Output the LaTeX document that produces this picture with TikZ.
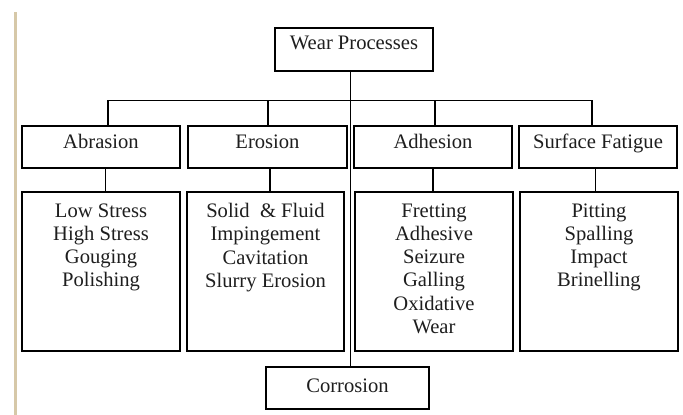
\documentclass[tikz,border=0pt]{standalone}
\usepackage{fontspec}
\setmainfont{Liberation Serif}
\usetikzlibrary{positioning}
\definecolor{tanline}{RGB}{214,200,168}
\definecolor{inktext}{RGB}{30,30,30}

\begin{document}
\begin{tikzpicture}[x=1pt,y=-1pt,
    box/.style={draw,line width=2pt,rectangle,inner sep=0pt,
      font=\fontsize{20.6}{23.3}\selectfont,text=inktext},
    headbox/.style={box,minimum width=158pt,minimum height=42pt,text height=12pt,text depth=10pt},
    listbox/.style={box,minimum width=158pt,minimum height=158.5pt},
    listtext/.style={anchor=north,inner sep=0pt,align=center,
      font=\fontsize{20.6}{23.3}\selectfont,text=inktext},
    link/.style={line width=1.2pt}]
    \useasboundingbox (0,0) rectangle (683,415);
    \fill[tanline] (14,12) rectangle (17.3,415);
    % top and bottom
    \node[headbox,minimum height=43pt,text height=10pt,text depth=11pt] (wear) at (354,49.5) {Wear Processes};
    \node[headbox,minimum width=163pt,text height=16pt,text depth=8pt] (corr) at (347.5,388) {Corrosion};
    % second row
    \node[headbox] (abr) at (101,147) {Abrasion};
    \node[headbox,minimum width=159pt] (ero) at (267.5,147) {Erosion};
    \node[headbox] (adh) at (433,147) {Adhesion};
    \node[headbox] (surf) at (598,147) {Surface Fatigue};
    % lists
    \node[listbox] (abrL) at (101,271.25) {};
    \node[listbox,minimum width=157pt] (eroL) at (265.5,271.25) {};
    \node[listbox] (adhL) at (434,271.25) {};
    \node[listbox] (surfL) at (599,271.25) {};
    \node[listtext] (abrT) at (101,203.2) {Low Stress\\High Stress\\Gouging\\Polishing};
    \node[listtext] (eroT) at (265.5,203.2) {Solid \ \& Fluid\\Impingement\\Cavitation\\Slurry Erosion};
    \node[listtext] (adhT) at (434,203.2) {Fretting\\Adhesive\\Seizure\\Galling\\Oxidative\\Wear};
    \node[listtext] (surfT) at (599,203.2) {Pitting\\Spalling\\Impact\\Brinelling};
    % connectors
    \coordinate (bus) at (350.7,100.5);
    \draw[link] ([xshift=-3.3pt]wear.south) -- ([xshift=-3.3pt]wear.south |- corr.north);
    \draw[link] ([xshift=7pt]abr.north) |- (bus);
    \draw[link] ([xshift=-6pt]surf.north) |- (bus);
    \draw[link] ([xshift=0.5pt]ero.north) -- ([xshift=0.5pt]ero.north |- bus);
    \draw[link] ([xshift=2pt]adh.north) -- ([xshift=2pt]adh.north |- bus);
    \draw[link] ([xshift=4.5pt]abrL.north) -- ([xshift=4.5pt]abrL.north |- abr.south);
    \draw[link] ([xshift=4.5pt]eroL.north) -- ([xshift=4.5pt]eroL.north |- ero.south);
    \draw[link] ([xshift=-1pt]adhL.north) -- ([xshift=-1pt]adhL.north |- adh.south);
    \draw[link] ([xshift=-3.5pt]surfL.north) -- ([xshift=-3.5pt]surfL.north |- surf.south);
\end{tikzpicture}
\end{document}
